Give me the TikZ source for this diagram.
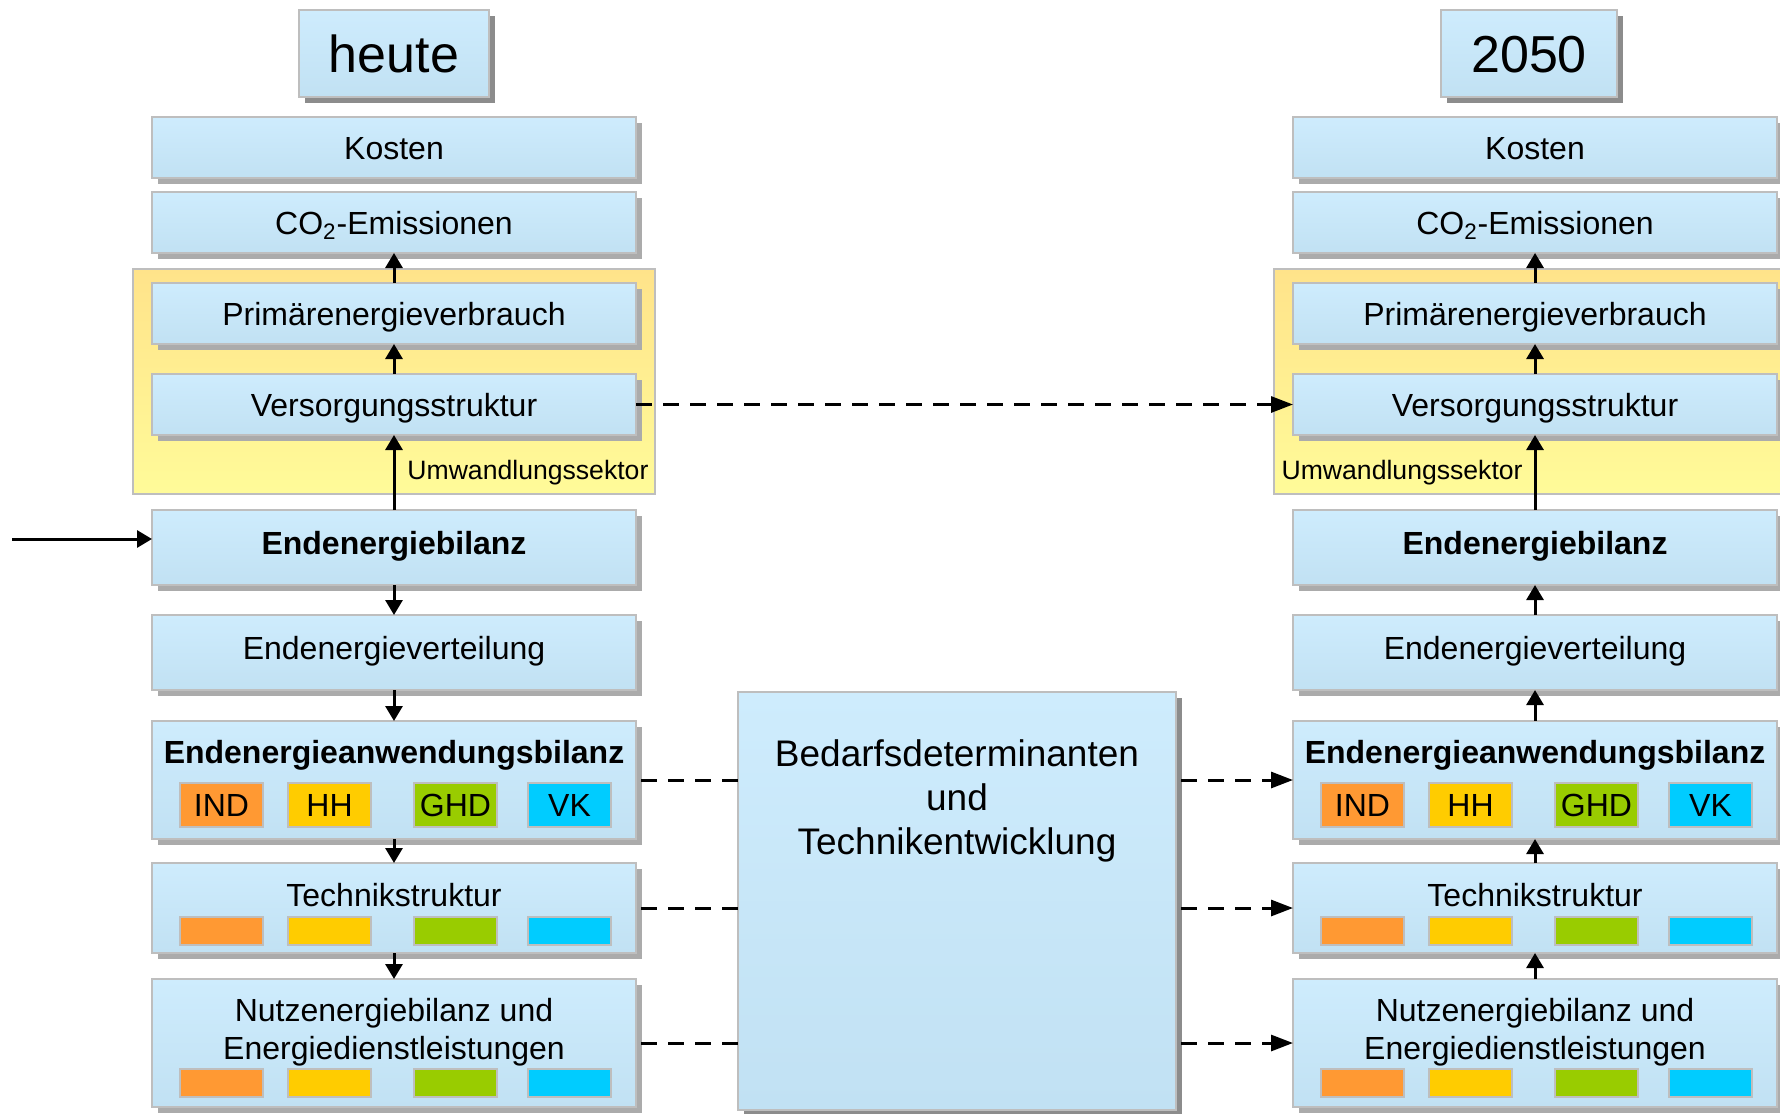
\documentclass[tikz,border=0pt]{standalone}
\usepackage{fontspec}
\setmainfont{Liberation Sans}
\usepackage{xcolor}
\usepackage{tikz}
\usetikzlibrary{arrows.meta,positioning,shadows,fit,backgrounds}

\definecolor{boxtop}{RGB}{206,236,253}
\definecolor{boxbot}{RGB}{193,225,243}
\definecolor{zonetop}{RGB}{255,227,138}
\definecolor{zonebot}{RGB}{255,251,153}
\definecolor{rimgray}{RGB}{190,190,190}
\definecolor{cInd}{RGB}{255,153,51}
\definecolor{cHh}{RGB}{255,204,0}
\definecolor{cGhd}{RGB}{153,204,0}
\definecolor{cVk}{RGB}{0,204,255}

\begin{document}
\begin{tikzpicture}[
    node distance=15pt,
    every node/.style={font=\fontsize{16pt}{19pt}\selectfont},
    plate/.style={draw=rimgray, line width=.8pt, top color=boxtop, bottom color=boxbot,
      inner sep=0pt, outer sep=0pt},
    box/.style={plate, minimum width=242pt, minimum height=30.5pt,
      text height=11.5pt, text depth=0pt,
      drop shadow={opacity=1, fill=black!33, shadow xshift=3pt, shadow yshift=-3pt}},
    title/.style={plate, minimum height=43.5pt, font=\fontsize{26pt}{31pt}\selectfont,
      text height=18.7pt, text depth=0pt,
      drop shadow={opacity=1, fill=black!45, shadow xshift=3pt, shadow yshift=-3pt}},
    boxhead/.style={anchor=north, inner sep=0pt, align=center},
    midtext/.style={anchor=north, inner sep=0pt, align=center,
      font=\fontsize{18.5pt}{22pt}\selectfont},
    sector/.style={draw=rimgray, line width=.8pt, minimum width=41.5pt, inner sep=0pt,
      outer sep=0pt, anchor=south west, text height=11.5pt, text depth=0pt},
    zone/.style={draw=rimgray, line width=.8pt, top color=zonetop, bottom color=zonebot,
      inner xsep=9.5pt, inner ysep=7pt},
    note/.style={inner sep=0pt, font=\fontsize{13.3pt}{16pt}\selectfont,
      text height=9.6pt, text depth=0pt},
    flow/.style={-{Triangle[length=7.5pt, width=8.5pt]}, line width=1.5pt},
    dashline/.style={line width=1.5pt, dash pattern=on 8pt off 5.5pt},
    dashflow/.style={dashline, -{Triangle[length=11pt, width=8pt]}}
  ]
    \useasboundingbox (0,0) rectangle (890pt,-556.5pt);

    % heute
    \node[box] (kostL) at (197pt,-73.75pt) {Kosten};
    \node[title, minimum width=95pt, above=10pt of kostL] (heute) {heute};
    \node[box, below=7pt of kostL] (co2L) {CO\textsubscript{2}-Emissionen};
    \node[box, below=of co2L] (primL) {Primärenergieverbrauch};
    \node[box, below=of primL] (versL) {Versorgungsstruktur};
    \node[box, below=37.5pt of versL, minimum height=37.5pt, text depth=5pt] (endbL) {\textbf{Endenergiebilanz}};
    \node[box, below=of endbL, minimum height=37.5pt, text depth=5pt] (vertL) {Endenergieverteilung};
    \node[box, below=15.5pt of vertL, minimum height=59pt,
      label={[boxhead, yshift=-9.6pt]north:\textbf{Endenergieanwendungsbilanz}}] (anwL) {};
    \node[box, below=12pt of anwL, minimum height=45pt,
      label={[boxhead, yshift=-10.1pt]north:Technikstruktur}] (techL) {};
    \node[box, below=13pt of techL, minimum height=64pt,
      label={[boxhead, yshift=-9.6pt]north:{Nutzenergiebilanz und\\Energiedienstleistungen}}] (nutzL) {};

    % 2050
    \node[box] (kostR) at (767.5pt,-73.75pt) {Kosten};
    \node[title, minimum width=88pt, above=10pt of kostR, xshift=-3pt] (jahr) {2050};
    \node[box, below=7pt of kostR] (co2R) {CO\textsubscript{2}-Emissionen};
    \node[box, below=of co2R] (primR) {Primärenergieverbrauch};
    \node[box, below=of primR] (versR) {Versorgungsstruktur};
    \node[box, below=37.5pt of versR, minimum height=37.5pt, text depth=5pt] (endbR) {\textbf{Endenergiebilanz}};
    \node[box, below=of endbR, minimum height=37.5pt, text depth=5pt] (vertR) {Endenergieverteilung};
    \node[box, below=15.5pt of vertR, minimum height=59pt,
      label={[boxhead, yshift=-9.6pt]north:\textbf{Endenergieanwendungsbilanz}}] (anwR) {};
    \node[box, below=12pt of anwR, minimum height=45pt,
      label={[boxhead, yshift=-10.1pt]north:Technikstruktur}] (techR) {};
    \node[box, below=13pt of techR, minimum height=64pt,
      label={[boxhead, yshift=-9.6pt]north:{Nutzenergiebilanz und\\Energiedienstleistungen}}] (nutzR) {};

    \node[plate, minimum width=219pt, minimum height=209pt, anchor=north,
      drop shadow={opacity=1, fill=black!45, shadow xshift=3pt, shadow yshift=-3pt},
      label={[midtext, yshift=-23.7pt]north:{Bedarfsdeterminanten\\und\\Technikentwicklung}}]
      (bedarf) at (478.5pt,-346pt) {};

    \foreach \b in {anwL,anwR}
      \foreach \s/\col/\dx in {IND/cInd/14pt,HH/cHh/68pt,GHD/cGhd/131pt,VK/cVk/188pt}
        \node[sector, fill=\col, minimum height=22pt] (\b-\s) at ([xshift=\dx, yshift=6pt]\b.south west) {\s};
    \foreach \b/\dy in {techL/4pt,techR/4pt,nutzL/5pt,nutzR/5pt}
      \foreach \s/\col/\dx in {IND/cInd/14pt,HH/cHh/68pt,GHD/cGhd/131pt,VK/cVk/188pt}
        \node[sector, fill=\col, minimum height=14pt] (\b-\s) at ([xshift=\dx, yshift=\dy]\b.south west) {};

    \coordinate (versLfoot) at ([yshift=-22.5pt]versL.south);
    \coordinate (versRfoot) at ([yshift=-22.5pt]versR.south);
    \begin{scope}[on background layer]
      \node[zone, fit={(primL) (versL) (versLfoot)}] (zoneL) {};
      \node[zone, fit={(primR) (versR) (versRfoot)}] (zoneR) {};
    \end{scope}
    \node[note, anchor=east] (umwL) at ([xshift=-3.5pt, yshift=12.5pt]zoneL.south east) {Umwandlungssektor};
    \node[note, anchor=west] (umwR) at ([xshift=4pt, yshift=12.5pt]zoneR.south west) {Umwandlungssektor};

    \coordinate (zufluss) at (6pt,-269.5pt);
    \draw[flow] (zufluss) -- (zufluss -| endbL.west);

    \draw[flow] (primL) -- (co2L);
    \draw[flow] (versL) -- (primL);
    \draw[flow] (endbL) -- (versL);
    \draw[flow] (endbL) -- (vertL);
    \draw[flow] (vertL) -- (anwL);
    \draw[flow] (anwL) -- (techL);
    \draw[flow] (techL) -- (nutzL);

    \draw[flow] (primR) -- (co2R);
    \draw[flow] (versR) -- (primR);
    \draw[flow] (endbR) -- (versR);
    \draw[flow] (vertR) -- (endbR);
    \draw[flow] (anwR) -- (vertR);
    \draw[flow] (techR) -- (anwR);
    \draw[flow] (nutzR) -- (techR);

    \draw[dashflow] (versL) -- (versR);
    \draw[dashline, shorten <=2.5pt] (anwL) -- (anwL -| bedarf.west);
    \draw[dashline, shorten <=2.5pt] (techL) -- (techL -| bedarf.west);
    \draw[dashline, shorten <=2.5pt] (nutzL) -- (nutzL -| bedarf.west);
    \draw[dashflow, shorten <=2.5pt] (bedarf.east |- anwR.west) -- (anwR);
    \draw[dashflow, shorten <=2.5pt] (bedarf.east |- techR.west) -- (techR);
    \draw[dashflow, shorten <=2.5pt] (bedarf.east |- nutzR.west) -- (nutzR);
  \end{tikzpicture}
\end{document}
